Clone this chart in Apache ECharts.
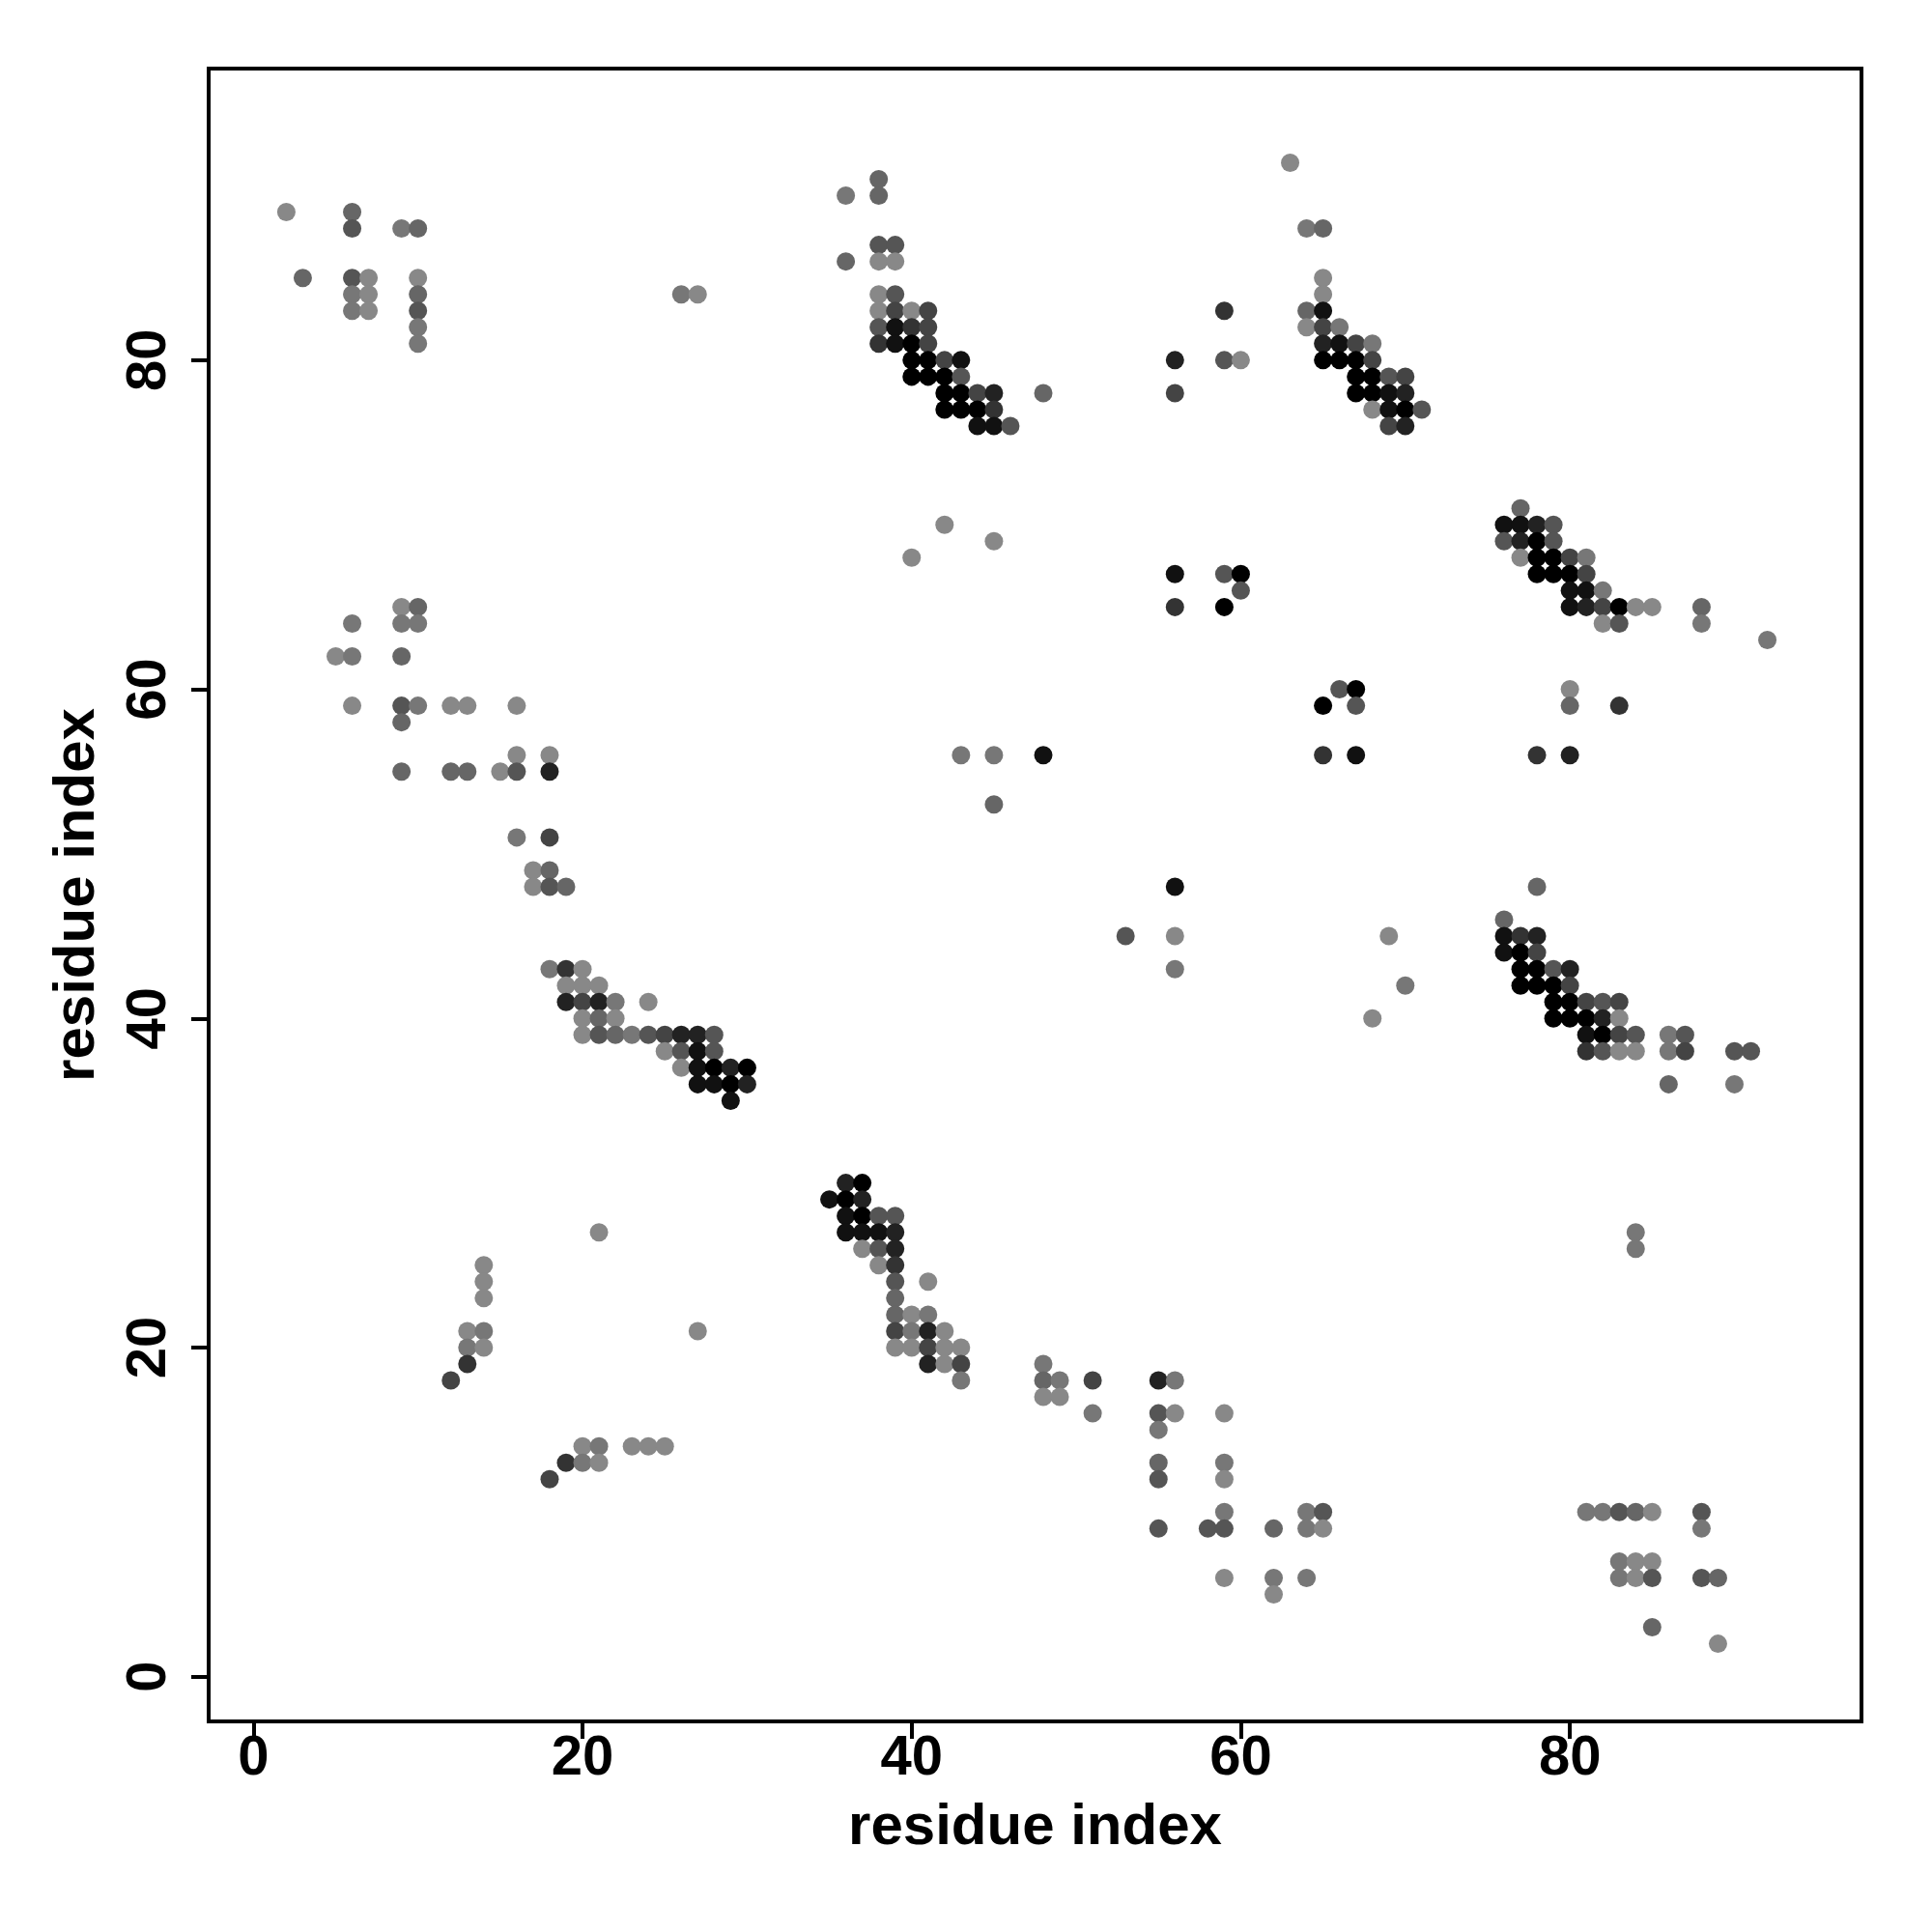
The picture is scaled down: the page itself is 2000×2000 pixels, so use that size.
<!DOCTYPE html>
<html>
<head>
<meta charset="utf-8">
<script src="https://cdn.jsdelivr.net/npm/echarts@6/dist/echarts.min.js"></script>
<style>
html,body{margin:0;padding:0;background:#fff;}
#chart{width:2000px;height:2000px;}
</style>
</head>
<body>
<div id="chart"></div>
<script>
// Each contact: [residue i, residue j, shade level 0 (black) .. 8 (light gray)]
const contactsTopLeft = [[2,89,8],[6,89,6],[6,88,5],[9,88,7],[10,88,6],[3,85,6],[6,85,5],[7,85,8],[6,84,7],[7,84,8],[6,83,7],[7,83,8],[10,85,8],[10,84,6],[10,83,5],[10,82,7],[10,81,7],[26,84,7],[27,84,8]];
const contactsTopMid = [[38,91,6],[36,90,7],[38,90,6],[38,87,5],[39,87,5],[36,86,6],[38,86,8],[39,86,8],[38,84,8],[39,84,5],[38,83,8],[39,83,4],[40,83,8],[41,83,4],[38,82,5],[39,82,1],[40,82,3],[41,82,4],[38,81,3],[39,81,1],[40,81,0],[41,81,4],[40,80,0],[41,80,0],[42,80,4],[43,80,1],[40,79,0],[41,79,0],[42,79,0],[43,79,5],[42,78,0],[43,78,0],[44,78,4],[45,78,2],[48,78,6],[42,77,0],[43,77,0],[44,77,0],[45,77,3],[44,76,1],[45,76,1],[46,76,5]];
const contactsTopRight = [[63,92,8],[64,88,7],[65,88,6],[65,85,8],[65,84,8],[59,83,3],[64,83,6],[65,83,1],[64,82,8],[65,82,4],[66,82,7],[65,81,2],[66,81,1],[67,81,4],[68,81,7],[56,80,2],[59,80,5],[60,80,8],[65,80,0],[66,80,0],[67,80,0],[68,80,4],[56,78,4],[67,79,0],[68,79,0],[69,79,5],[70,79,4],[67,78,0],[68,78,0],[69,78,1],[70,78,2],[68,77,8],[69,77,1],[70,77,0],[71,77,5],[69,76,4],[70,76,2]];
const contactsRightUpper = [[77,71,6],[76,70,1],[77,70,1],[78,70,2],[79,70,5],[76,69,5],[77,69,2],[78,69,0],[79,69,5],[77,68,8],[78,68,0],[79,68,0],[80,68,4],[81,68,7],[78,67,0],[79,67,0],[80,67,0],[81,67,4],[80,66,1],[81,66,1],[82,66,7],[80,65,1],[81,65,2],[82,65,4],[83,65,0],[84,65,8],[85,65,8],[88,65,6],[82,64,8],[83,64,5],[88,64,7],[92,63,7]];
const contactsMidUpper = [[42,70,8],[45,69,8],[40,68,8],[56,67,1],[59,67,5],[60,67,0],[60,66,5],[56,65,3],[59,65,0]];
const contactsLeftMid = [[9,65,8],[10,65,6],[6,64,7],[9,64,7],[10,64,7],[5,62,8],[6,62,7],[9,62,6],[6,59,8],[9,59,5],[10,59,7],[12,59,8],[13,59,8],[16,59,8],[9,58,6],[16,56,8],[18,56,8],[9,55,6],[12,55,6],[13,55,6],[15,55,8],[16,55,5],[18,55,2],[16,51,7],[18,51,4],[17,49,8],[18,49,6],[17,48,8],[18,48,5],[19,48,6]];
const contactsHelixA = [[18,43,7],[19,43,3],[20,43,8],[19,42,8],[20,42,8],[21,42,8],[19,41,2],[20,41,4],[21,41,2],[22,41,7],[24,41,8],[20,40,8],[21,40,6],[22,40,8],[20,39,8],[21,39,5],[22,39,6],[23,39,7],[24,39,5],[25,39,4],[26,39,2],[27,39,2],[28,39,5],[25,38,8],[26,38,5],[27,38,1],[28,38,5],[26,37,8],[27,37,1],[28,37,0],[29,37,2],[30,37,0],[27,36,1],[28,36,1],[29,36,0],[30,36,2],[29,35,1]];
const contactsHelixB = [[36,30,2],[37,30,0],[35,29,1],[36,29,0],[37,29,2],[36,28,1],[37,28,0],[38,28,5],[39,28,5],[36,27,1],[37,27,1],[38,27,1],[39,27,2],[37,26,8],[38,26,5],[39,26,2],[38,25,8],[39,25,3],[39,24,5],[41,24,8],[39,23,6],[39,22,6],[40,22,8],[41,22,7],[39,21,4],[40,21,7],[41,21,2],[42,21,8],[39,20,8],[40,20,8],[41,20,4],[42,20,8],[43,20,8],[41,19,2],[42,19,8],[43,19,4],[43,18,7]];
const contactsBottomMid = [[48,19,7],[48,18,6],[49,18,7],[51,18,4],[55,18,2],[56,18,7],[48,17,8],[49,17,8],[51,16,7],[55,16,5],[56,16,8],[59,16,8],[55,15,7],[55,13,6],[59,13,7],[55,12,5],[59,12,8],[59,10,7],[64,10,7],[65,10,5],[55,9,5],[58,9,5],[59,9,5],[62,9,6],[64,9,7],[65,9,8],[59,6,8],[62,6,7],[64,6,7],[62,5,8]];
const contactsRightMid = [[78,48,6],[76,46,6],[76,45,1],[77,45,3],[78,45,2],[76,44,1],[77,44,0],[78,44,4],[77,43,0],[78,43,0],[79,43,5],[80,43,2],[77,42,0],[78,42,0],[79,42,0],[80,42,4],[79,41,0],[80,41,0],[81,41,4],[82,41,5],[83,41,4],[79,40,0],[80,40,0],[81,40,0],[82,40,2],[83,40,8],[81,39,1],[82,39,0],[83,39,4],[84,39,5],[86,39,7],[87,39,5],[81,38,3],[82,38,5],[83,38,8],[84,38,8],[86,38,7],[87,38,4],[90,38,5],[91,38,5],[86,36,6],[90,36,7]];
const contactsRightLow = [[84,27,7],[84,26,7],[81,10,7],[82,10,7],[83,10,5],[84,10,6],[85,10,8],[88,10,5],[88,9,7],[83,7,7],[84,7,8],[85,7,8],[83,6,7],[84,6,8],[85,6,5],[88,6,5],[89,6,6],[85,3,6],[89,2,8]];
const contactsLeftLow = [[21,27,8],[14,25,8],[14,24,8],[14,23,8],[13,21,8],[14,21,7],[27,21,8],[13,20,7],[14,20,8],[13,19,3],[12,18,4],[20,14,8],[21,14,7],[23,14,8],[24,14,8],[25,14,8],[19,13,3],[20,13,7],[21,13,8],[18,12,4]];
const contactsScattered = [[43,56,7],[45,56,7],[45,53,6],[48,56,1],[53,45,5],[56,48,1],[56,45,8],[56,43,7],[65,59,0],[66,60,5],[67,60,0],[67,59,5],[65,56,3],[67,56,1],[68,40,8],[69,45,8],[70,42,7],[78,56,3],[80,56,2],[80,60,8],[80,59,6],[83,59,3]];

const tickValues = [0, 20, 40, 60, 80];
const axisTitle = 'residue index';

const allContacts = [].concat(contactsTopLeft, contactsTopMid, contactsTopRight, contactsRightUpper,
  contactsMidUpper, contactsLeftMid, contactsHelixA, contactsHelixB, contactsBottomMid,
  contactsRightMid, contactsRightLow, contactsLeftLow, contactsScattered);

function shade(level) {
  const v = Math.round(level * 17);
  return 'rgb(' + v + ',' + v + ',' + v + ')';
}

const FONT = 'Liberation Sans, Arial, Helvetica, sans-serif';
const chart = echarts.init(document.getElementById('chart'), null, {renderer: 'canvas'});

function axisCommon(isX) {
  return {
    type: 'value',
    min: -2.72,
    max: 97.72,
    name: axisTitle,
    nameLocation: 'middle',
    nameGap: isX ? 80 : 106,
    nameTextStyle: {fontSize: 60, fontWeight: 'bold', color: '#000', fontFamily: FONT},
    axisLine: {show: false, onZero: false},
    splitLine: {show: false},
    axisTick: {show: true, customValues: tickValues, length: 18, inside: false,
      lineStyle: {color: '#000', width: 4}},
    axisLabel: {show: true, customValues: tickValues, fontSize: 58, fontWeight: 'bold',
      color: '#000', fontFamily: FONT, margin: isX ? 10 : 32, rotate: isX ? 0 : 90}
  };
}

chart.setOption({
  animation: false,
  backgroundColor: '#fff',
  grid: {left: 216, top: 71, width: 1711, height: 1711, show: true,
    borderColor: '#000', borderWidth: 4, backgroundColor: 'transparent'},
  xAxis: axisCommon(true),
  yAxis: axisCommon(false),
  series: [{
    type: 'scatter',
    symbol: 'circle',
    symbolSize: 19,
    data: allContacts.map(function (d) { return {value: [d[0], d[1]], itemStyle: {color: shade(d[2])}}; }),
    itemStyle: {opacity: 1}
  }]
});
</script>
</body>
</html>
